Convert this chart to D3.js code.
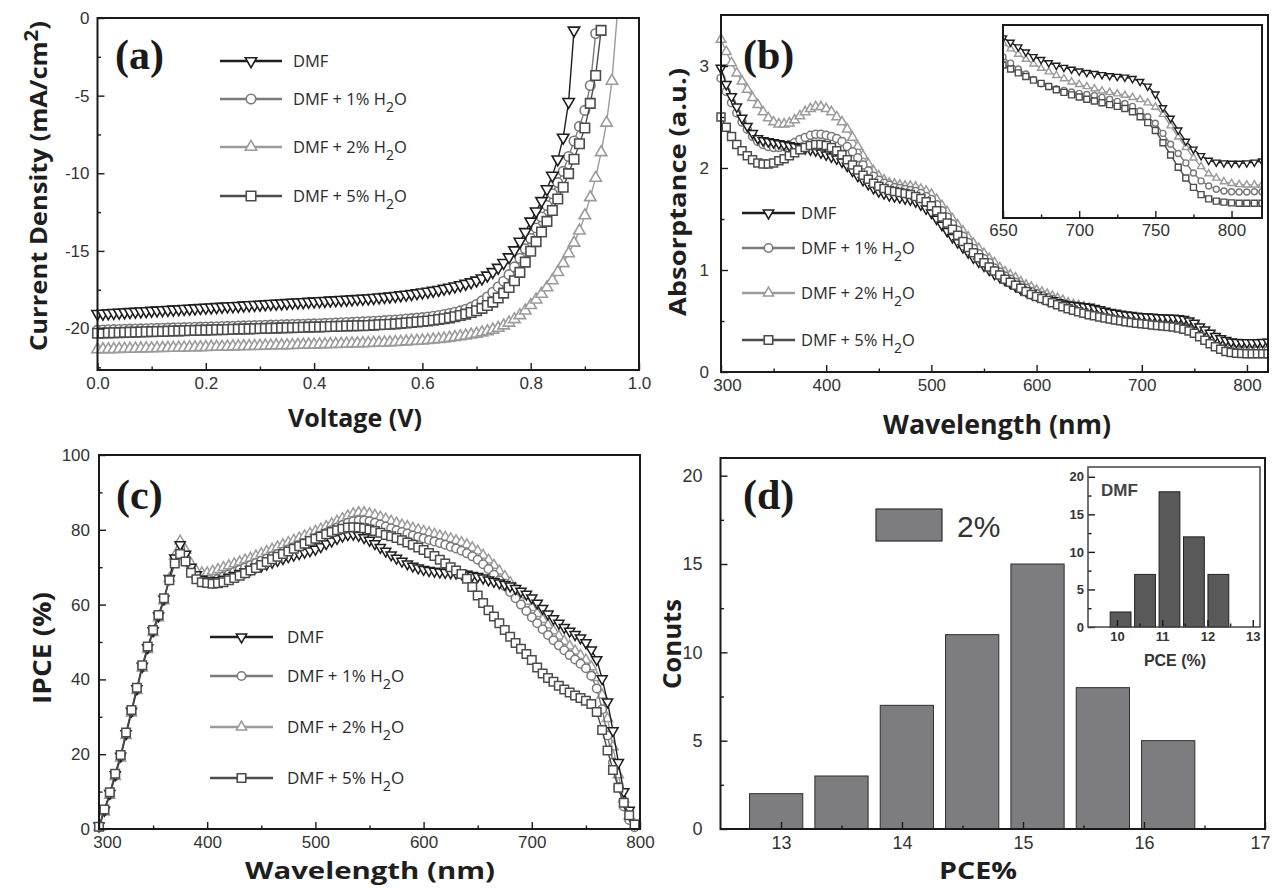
<!DOCTYPE html>
<html>
<head>
<meta charset="utf-8">
<script src="https://cdnjs.cloudflare.com/ajax/libs/d3/7.8.5/d3.min.js"></script>
<style>
  body { margin: 0; background: #fff; }
  svg text { font-family: "Liberation Sans", Arial, sans-serif; }
  .title { font-family: "Open Sans", sans-serif; font-weight: 700; fill: #1e1e1e; }
  .leg { font-family: "Open Sans", sans-serif; fill: #2a2a2a; }
  .tag { font-family: "Liberation Serif", "Times New Roman", serif; font-weight: 700; fill: #1a1a1a; }
</style>
</head>
<body>
<svg id="fig" width="1274" height="889"></svg>
<script>
//Series shared by panels (a), (b) and (c)
var legendLabels = ["DMF", "DMF + 1% H2O", "DMF + 2% H2O", "DMF + 5% H2O"];
var seriesColors = ["#1e1e1e", "#7a7a7a", "#9b9b9b", "#4c4c4c"];
var seriesSymbols = ["down", "circle", "up", "square"];

//(a) J-V curves, voltage from 0 V in steps of 0.01 V
var jvStart = 0, jvStep = 0.01;
var jvDMF = [-19.05,-19.03,-19.01,-18.99,-18.97,-18.95,-18.93,-18.91,-18.89,-18.87,
  -18.85,-18.83,-18.81,-18.79,-18.77,-18.75,-18.73,-18.71,-18.69,-18.67,
  -18.65,-18.63,-18.61,-18.59,-18.57,-18.55,-18.53,-18.51,-18.49,-18.47,
  -18.45,-18.43,-18.41,-18.39,-18.37,-18.35,-18.33,-18.31,-18.29,-18.27,
  -18.25,-18.23,-18.21,-18.19,-18.17,-18.15,-18.13,-18.11,-18.09,-18.07,
  -18.05,-18.02,-17.99,-17.96,-17.93,-17.89,-17.85,-17.81,-17.77,-17.72,
  -17.67,-17.62,-17.56,-17.50,-17.43,-17.36,-17.28,-17.20,-17.11,-17.01,
  -16.90,-16.76,-16.58,-16.35,-16.08,-15.77,-15.40,-14.95,-14.40,-13.78,
  -13.10,-12.45,-11.78,-11.02,-10.15,-9.10,-7.70,-5.40,-0.80];
var jvW1 = [-20.10,-20.09,-20.08,-20.07,-20.06,-20.05,-20.04,-20.03,-20.02,-20.01,
  -20.00,-19.99,-19.98,-19.97,-19.96,-19.95,-19.94,-19.93,-19.92,-19.91,
  -19.90,-19.89,-19.88,-19.87,-19.86,-19.85,-19.84,-19.83,-19.82,-19.81,
  -19.80,-19.79,-19.78,-19.77,-19.76,-19.75,-19.74,-19.73,-19.72,-19.71,
  -19.70,-19.69,-19.67,-19.66,-19.64,-19.63,-19.61,-19.60,-19.58,-19.57,
  -19.55,-19.53,-19.51,-19.49,-19.47,-19.45,-19.42,-19.39,-19.36,-19.33,
  -19.30,-19.26,-19.21,-19.16,-19.10,-19.03,-18.95,-18.86,-18.76,-18.62,
  -18.45,-18.22,-17.97,-17.66,-17.32,-16.95,-16.53,-16.03,-15.47,-14.86,
  -14.20,-13.52,-12.82,-12.08,-11.32,-10.60,-9.88,-8.92,-7.92,-6.98,
  -5.95,-4.35,-1.00];
var jvW2 = [-21.35,-21.34,-21.34,-21.33,-21.32,-21.31,-21.31,-21.30,-21.29,-21.28,
  -21.28,-21.27,-21.26,-21.25,-21.25,-21.24,-21.23,-21.22,-21.22,-21.21,
  -21.20,-21.19,-21.18,-21.18,-21.17,-21.16,-21.15,-21.14,-21.14,-21.13,
  -21.12,-21.11,-21.10,-21.09,-21.09,-21.08,-21.07,-21.06,-21.05,-21.04,
  -21.04,-21.03,-21.02,-21.01,-21.00,-20.99,-20.98,-20.97,-20.96,-20.95,
  -20.94,-20.93,-20.92,-20.91,-20.89,-20.88,-20.86,-20.84,-20.82,-20.80,
  -20.78,-20.75,-20.72,-20.69,-20.65,-20.61,-20.56,-20.51,-20.46,-20.40,
  -20.34,-20.26,-20.18,-20.08,-19.96,-19.81,-19.63,-19.41,-19.15,-18.85,
  -18.50,-18.14,-17.77,-17.35,-16.90,-16.37,-15.80,-15.16,-14.48,-13.70,
  -12.72,-11.55,-10.30,-8.65,-6.75,-4.05,0.30];
var jvW5 = [-20.30,-20.29,-20.28,-20.27,-20.26,-20.25,-20.24,-20.23,-20.22,-20.21,
  -20.20,-20.19,-20.18,-20.17,-20.16,-20.15,-20.14,-20.13,-20.12,-20.11,
  -20.10,-20.09,-20.08,-20.07,-20.06,-20.05,-20.04,-20.03,-20.02,-20.01,
  -20.00,-19.99,-19.98,-19.97,-19.96,-19.95,-19.94,-19.93,-19.92,-19.91,
  -19.90,-19.89,-19.88,-19.87,-19.86,-19.85,-19.84,-19.83,-19.82,-19.81,
  -19.80,-19.78,-19.76,-19.74,-19.72,-19.70,-19.67,-19.64,-19.61,-19.58,
  -19.55,-19.51,-19.47,-19.42,-19.37,-19.31,-19.24,-19.16,-19.07,-18.97,
  -18.85,-18.70,-18.52,-18.30,-18.03,-17.72,-17.36,-16.92,-16.38,-15.72,
  -15.02,-14.40,-13.78,-13.10,-12.40,-11.66,-10.90,-10.02,-9.10,-8.10,
  -7.08,-5.50,-3.70,-0.80];

//(b) absorptance, 300 to 820 nm every 5 nm
var absStart = 300, absStep = 5;
var absDMF = [2.98,2.82,2.70,2.60,2.49,2.41,2.34,2.29,2.27,2.26,
  2.25,2.24,2.23,2.22,2.21,2.20,2.19,2.18,2.17,2.15,
  2.13,2.11,2.09,2.06,2.02,1.97,1.92,1.88,1.84,1.80,
  1.77,1.75,1.73,1.72,1.71,1.70,1.69,1.67,1.64,1.60,
  1.56,1.50,1.44,1.38,1.32,1.27,1.22,1.17,1.12,1.08,
  1.04,1.00,0.96,0.93,0.90,0.87,0.84,0.81,0.79,0.77,
  0.75,0.73,0.71,0.70,0.68,0.67,0.66,0.655,0.65,0.643,
  0.637,0.625,0.612,0.598,0.585,0.577,0.568,0.561,0.555,0.550,
  0.545,0.541,0.538,0.535,0.532,0.530,0.528,0.524,0.516,0.503,
  0.481,0.443,0.414,0.381,0.350,0.328,0.310,0.297,0.292,0.290,
  0.289,0.289,0.290,0.292,0.295];
var absW1 = [2.88,2.75,2.64,2.54,2.45,2.38,2.31,2.26,2.23,2.21,
  2.20,2.20,2.21,2.23,2.25,2.28,2.30,2.32,2.33,2.33,
  2.32,2.31,2.29,2.26,2.21,2.16,2.10,2.03,1.97,1.92,
  1.88,1.85,1.83,1.81,1.80,1.79,1.78,1.77,1.75,1.72,
  1.69,1.64,1.58,1.52,1.45,1.39,1.33,1.27,1.21,1.16,
  1.11,1.07,1.02,0.98,0.94,0.91,0.88,0.85,0.82,0.79,
  0.77,0.75,0.73,0.71,0.69,0.67,0.65,0.63,0.613,0.598,
  0.584,0.567,0.551,0.537,0.522,0.510,0.502,0.496,0.491,0.487,
  0.483,0.480,0.477,0.472,0.467,0.461,0.455,0.447,0.434,0.418,
  0.400,0.372,0.342,0.316,0.290,0.262,0.240,0.226,0.217,0.212,
  0.210,0.209,0.209,0.210,0.210];
var absW2 = [3.26,3.14,3.03,2.93,2.85,2.77,2.69,2.62,2.55,2.49,
  2.45,2.43,2.43,2.44,2.47,2.51,2.55,2.58,2.60,2.60,
  2.58,2.55,2.50,2.45,2.38,2.30,2.21,2.12,2.04,1.97,
  1.92,1.88,1.85,1.84,1.83,1.82,1.82,1.81,1.79,1.77,
  1.74,1.69,1.63,1.57,1.50,1.44,1.38,1.32,1.26,1.21,
  1.16,1.11,1.07,1.02,0.98,0.95,0.92,0.88,0.85,0.83,
  0.80,0.78,0.76,0.74,0.72,0.70,0.675,0.66,0.648,0.636,
  0.623,0.607,0.592,0.578,0.565,0.553,0.543,0.533,0.524,0.515,
  0.508,0.502,0.496,0.490,0.486,0.482,0.478,0.472,0.466,0.457,
  0.445,0.425,0.393,0.362,0.333,0.304,0.280,0.260,0.248,0.238,
  0.233,0.230,0.229,0.229,0.229];
var absW5 = [2.50,2.40,2.31,2.23,2.17,2.12,2.08,2.05,2.04,2.04,
  2.05,2.07,2.09,2.12,2.15,2.18,2.20,2.22,2.23,2.23,
  2.22,2.20,2.17,2.13,2.08,2.03,1.98,1.93,1.89,1.85,
  1.82,1.80,1.78,1.77,1.76,1.75,1.74,1.72,1.70,1.67,
  1.63,1.58,1.52,1.46,1.40,1.34,1.28,1.22,1.17,1.12,
  1.07,1.03,0.99,0.95,0.91,0.88,0.85,0.82,0.79,0.76,
  0.74,0.72,0.70,0.68,0.66,0.64,0.62,0.605,0.59,0.576,
  0.562,0.551,0.540,0.530,0.520,0.511,0.502,0.493,0.486,0.479,
  0.473,0.467,0.462,0.457,0.452,0.447,0.441,0.432,0.418,0.402,
  0.380,0.346,0.312,0.278,0.248,0.222,0.202,0.190,0.184,0.181,
  0.179,0.178,0.178,0.178,0.178];

//(c) IPCE, 300 to 795 nm every 5 nm
var ipceStart = 300, ipceStep = 5;
var ipceDMF = [0.8,5.0,9.5,14.5,19.5,25.5,31.5,37.5,43.5,48.5,
  53.0,57.0,61.5,67.0,72.5,76.0,73.5,70.0,68.0,66.8,
  66.3,66.2,66.4,66.8,67.3,67.8,68.3,68.8,69.4,70.0,
  70.3,70.8,71.3,71.8,72.3,72.8,73.2,73.6,74.0,74.4,
  74.8,75.5,76.3,77.0,77.7,78.3,78.7,78.8,78.5,77.9,
  77.2,76.3,75.3,74.3,73.3,72.4,71.6,70.9,70.3,69.8,
  69.4,69.1,68.9,68.7,68.6,68.5,68.4,68.3,68.1,67.8,
  67.5,67.1,66.6,66.2,65.8,65.4,65.0,64.3,63.6,62.8,
  61.8,60.4,59.0,57.5,56.2,55.0,53.9,52.9,52.0,51.1,
  49.8,47.9,45.3,40.2,34.0,26.3,17.8,10.0,5.0,1.5];
var ipceW1 = [0.5,4.8,9.2,14.2,19.2,25.2,31.2,37.2,43.2,48.2,
  52.7,56.7,61.2,66.5,71.5,74.8,72.5,69.0,67.2,66.4,
  66.2,66.4,66.9,67.5,68.1,68.7,69.3,69.9,70.5,71.1,
  71.7,72.3,72.9,73.5,74.1,74.7,75.3,75.9,76.5,77.1,
  77.8,78.5,79.2,79.9,80.6,81.3,81.9,82.3,82.5,82.5,
  82.3,81.9,81.4,80.9,80.4,79.9,79.4,79.0,78.5,78.1,
  77.7,77.3,76.9,76.5,76.0,75.5,75.0,74.4,73.7,72.9,
  72.0,70.8,69.5,68.0,66.5,65.0,63.4,61.7,60.0,58.3,
  56.6,55.0,53.4,51.9,50.5,49.1,47.8,46.5,45.3,44.2,
  43.0,41.0,37.6,32.0,25.0,17.8,11.2,6.0,2.4,0.5];
var ipceW2 = [0.5,4.5,9.0,14.0,19.0,25.0,31.0,37.0,43.0,48.0,
  52.5,56.5,61.0,67.0,73.0,77.0,74.5,71.0,69.0,68.5,
  68.5,68.9,69.4,69.9,70.4,70.9,71.4,71.9,72.4,73.0,
  73.6,74.2,74.8,75.4,76.0,76.6,77.2,77.8,78.4,79.0,
  79.6,80.2,80.9,81.6,82.3,83.0,83.7,84.3,84.6,84.6,
  84.3,83.9,83.4,82.9,82.3,81.8,81.3,80.9,80.4,80.0,
  79.6,79.2,78.8,78.4,78.0,77.6,77.1,76.6,76.0,75.2,
  74.3,73.2,71.9,70.5,69.0,67.5,65.9,64.3,62.6,60.9,
  59.2,57.6,56.0,54.5,53.0,51.6,50.2,48.9,47.6,46.4,
  45.2,43.4,40.5,35.8,29.5,22.0,14.5,8.0,3.5,0.8];
var ipceW5 = [0.6,5.2,9.8,14.8,19.8,25.8,31.8,37.8,43.8,48.8,
  53.2,57.2,61.7,66.5,71.0,73.5,71.5,68.5,66.8,66.0,
  65.8,65.6,65.7,66.0,66.5,67.1,67.7,68.4,69.1,69.8,
  70.6,71.4,72.1,72.8,73.5,74.2,74.9,75.6,76.3,77.0,
  77.6,78.2,78.8,79.4,79.9,80.3,80.6,80.7,80.6,80.4,
  80.1,79.7,79.2,78.6,78.3,77.8,77.2,76.6,76.0,75.3,
  74.6,73.8,73.0,72.0,71.0,70.0,69.1,68.2,66.9,64.7,
  62.4,60.4,58.5,56.8,55.0,53.2,51.4,49.7,48.2,46.8,
  45.2,43.2,41.6,40.4,39.4,38.3,37.3,36.5,35.7,35.0,
  34.3,33.4,31.3,26.5,21.0,15.8,11.0,7.0,3.7,1.2];

//(d) PCE histograms
var pceBins = [12.96, 13.5, 14.04, 14.58, 15.12, 15.66, 16.2];
var pceCounts = [2, 3, 7, 11, 15, 8, 5];
var dmfBins = [10.08, 10.62, 11.16, 11.7, 12.24];
var dmfCounts = [2, 7, 18, 12, 7];

var svg = d3.select("#fig");

//Plot boxes in page pixels
var boxA = { x0: 97.5, x1: 639, y0: 18, y1: 370 };
var boxB = { x0: 721, x1: 1268, y0: 15, y1: 372 };
var boxBi = { x0: 1003, x1: 1262, y0: 25, y1: 218 };
var boxC = { x0: 99, x1: 640, y0: 455, y1: 829 };
var boxD = { x0: 720.5, x1: 1265, y0: 458, y1: 829 };
var boxDi = { x0: 1088, x1: 1260, y0: 467, y1: 627 };

function markerPath(sym, s) {
  if (sym == "circle") return d3.symbol(d3.symbolCircle, Math.PI * s * s / 4)();
  if (sym == "square") return d3.symbol(d3.symbolSquare, s * s)();
  return d3.symbol(d3.symbolTriangle, Math.sqrt(3) / 4 * s * s)();
}

function markerSize(sym, s) {
  return (sym == "up" || sym == "down") ? s * 1.2 : s;
}

//Draws one series as a thin line with hollow markers
function drawSeries(g, x, y, start, step, ys, idx, size, sw) {
  var pts = ys.map(function (v, i) { return [start + i * step, v]; });
  var color = seriesColors[idx], sym = seriesSymbols[idx];
  g.append("path")
    .attr("d", d3.line().x(function (d) { return x(d[0]); }).y(function (d) { return y(d[1]); })(pts))
    .attr("fill", "none")
    .attr("stroke", color)
    .attr("stroke-width", 1.4);
  g.selectAll(null)
    .data(pts)
    .enter().append("path")
      .attr("d", markerPath(sym, markerSize(sym, size)))
      .attr("transform", function (d) {
        return "translate(" + x(d[0]) + "," + y(d[1]) + ")" + (sym == "down" ? " rotate(180)" : "");
      })
      .attr("fill", "#fff")
      .attr("stroke", color)
      .attr("stroke-width", sw || 1.3);
}

//Axes with inward ticks and a closed frame
function drawFrame(b, x, y, o) {
  var g = svg.append("g").attr("color", "#1a1a1a");
  g.append("g").attr("transform", "translate(0," + b.y1 + ")")
    .call(d3.axisBottom(x).tickValues(o.xMinor).tickSize(-3.5).tickSizeOuter(0).tickFormat(""));
  var xg = g.append("g").attr("transform", "translate(0," + b.y1 + ")")
    .call(d3.axisBottom(x).tickValues(o.xMajor).tickSize(-7).tickSizeOuter(0)
      .tickPadding(o.xPad).tickFormat(o.xFmt));
  if (o.yMajor) {
    g.append("g").attr("transform", "translate(" + b.x0 + ",0)")
      .call(d3.axisLeft(y).tickValues(o.yMinor).tickSize(-3.5).tickSizeOuter(0).tickFormat(""));
    g.append("g").attr("transform", "translate(" + b.x0 + ",0)")
      .call(d3.axisLeft(y).tickValues(o.yMajor).tickSize(-7).tickSizeOuter(0)
        .tickPadding(o.yPad).tickFormat(o.yFmt));
  }
  g.selectAll(".domain").remove();
  g.selectAll(".tick line").attr("stroke-width", 1.4);
  g.selectAll(".tick text")
    .attr("font-size", o.fs || 17)
    .attr("font-weight", o.bold ? 700 : 400)
    .attr("font-family", "'Liberation Sans', Arial, sans-serif")
    .attr("fill", "#333");
  //nudge the first and last x labels where they sit at a corner or the page edge
  var labels = xg.selectAll(".tick text");
  if (o.firstDx) labels.filter(function (d, i) { return i == 0; }).attr("dx", o.firstDx);
  if (o.lastDx) labels.filter(function (d, i, n) { return i == n.length - 1; }).attr("dx", o.lastDx);
  g.append("rect")
    .attr("x", b.x0).attr("y", b.y0)
    .attr("width", b.x1 - b.x0).attr("height", b.y1 - b.y0)
    .attr("fill", "none").attr("stroke", "#1a1a1a").attr("stroke-width", 2);
  return g;
}

function withSub(sel, label) {
  var k = label.indexOf("H2O");
  if (k < 0) { sel.text(label); return; }
  sel.append("tspan").text(label.slice(0, k + 1));
  sel.append("tspan").attr("dy", 7).attr("font-size", "0.85em").text("2");
  sel.append("tspan").attr("dy", -7).text("O");
}

function drawLegend(lx0, lx1, tx, rows, size, fs) {
  var g = svg.append("g");
  legendLabels.forEach(function (lab, i) {
    var cy = rows[i];
    g.append("line").attr("x1", lx0).attr("x2", lx1).attr("y1", cy).attr("y2", cy)
      .attr("stroke", seriesColors[i]).attr("stroke-width", 2.4);
    g.append("path")
      .attr("d", markerPath(seriesSymbols[i], markerSize(seriesSymbols[i], size)))
      .attr("transform", "translate(" + (lx0 + lx1) / 2 + "," + cy + ")" + (seriesSymbols[i] == "down" ? " rotate(180)" : ""))
      .attr("fill", "#fff").attr("stroke", seriesColors[i]).attr("stroke-width", 1.6);
    var t = g.append("text").attr("class", "leg").attr("x", tx).attr("y", cy).attr("dy", "0.35em")
      .attr("font-size", fs);
    withSub(t, lab);
  });
}

function axisTitle(txt, cx, cy, vertical, size, len) {
  var t = svg.append("text").attr("class", "title")
    .attr("transform", "translate(" + cx + "," + cy + ")" + (vertical ? " rotate(-90)" : ""))
    .attr("text-anchor", "middle").attr("dy", "0.35em")
    .attr("font-size", size)
    .attr("textLength", len).attr("lengthAdjust", "spacingAndGlyphs");
  if (txt.indexOf("cm2") >= 0) {
    t.append("tspan").text("Current Density (mA/cm");
    t.append("tspan").attr("dy", -9).attr("font-size", "0.8em").text("2");
    t.append("tspan").attr("dy", 9).text(")");
  } else {
    t.text(txt);
  }
}

function panelTag(txt, x, y) {
  svg.append("text").attr("class", "tag").attr("x", x).attr("y", y).attr("font-size", 42).text(txt);
}

function clipFor(id, b, padL, padB) {
  svg.append("clipPath").attr("id", id).append("rect")
    .attr("x", b.x0 - padL).attr("y", b.y0)
    .attr("width", b.x1 - b.x0 + padL).attr("height", b.y1 - b.y0 + padB);
  return "url(#" + id + ")";
}

var drawOrder = [2, 1, 0, 3];

//---------------- (a) J-V ----------------
var xA = d3.scaleLinear().domain([0, 1]).range([boxA.x0, boxA.x1]);
var yA = d3.scaleLinear().domain([-22.67, 0]).range([boxA.y1, boxA.y0]);
var gA = svg.append("g").attr("clip-path", clipFor("clipA", boxA, 8, 8));
var jvSets = [jvDMF, jvW1, jvW2, jvW5];
drawOrder.forEach(function (i) { drawSeries(gA, xA, yA, jvStart, jvStep, jvSets[i], i, 9.5, 1.6); });
drawFrame(boxA, xA, yA, {
  xMajor: [0, 0.2, 0.4, 0.6, 0.8, 1.0], xMinor: [0.1, 0.3, 0.5, 0.7, 0.9],
  yMajor: [0, -5, -10, -15, -20], yMinor: [-2.5, -7.5, -12.5, -17.5, -22.5],
  xFmt: d3.format(".1f"), yFmt: function (d) { return String(d); }, xPad: 7, yPad: 8
});
drawLegend(220, 282, 293, [61, 99, 147, 196], 9.5, 16.5);
panelTag("(a)", 115, 69);
axisTitle("Current Density (mA/cm2)", 39, 186, true, 24, 330);
axisTitle("Voltage (V)", 355, 418, false, 25, 134);

//---------------- (b) absorptance ----------------
var xB = d3.scaleLinear().domain([300, 820]).range([boxB.x0, boxB.x1]);
var yB = d3.scaleLinear().domain([0, 3.5]).range([boxB.y1, boxB.y0]);
var gB = svg.append("g").attr("clip-path", clipFor("clipB", boxB, 8, 8));
var absSets = [absDMF, absW1, absW2, absW5];
drawOrder.forEach(function (i) { drawSeries(gB, xB, yB, absStart, absStep, absSets[i], i, 8, 1.5); });
drawFrame(boxB, xB, yB, {
  xMajor: [300, 400, 500, 600, 700, 800], xMinor: [350, 450, 550, 650, 750],
  yMajor: [0, 1, 2, 3], yMinor: [0.5, 1.5, 2.5],
  xFmt: d3.format("d"), yFmt: d3.format("d"), xPad: 7, yPad: 12, firstDx: 6
});
drawLegend(742, 795, 801, [213, 248, 293, 340], 8.5, 16.5);
panelTag("(b)", 743, 69);
axisTitle("Absorptance (a.u.)", 678, 192, true, 24, 248);
axisTitle("Wavelength (nm)", 997, 425, false, 27, 228);

//inset of (b): band edge region
svg.append("rect").attr("x", boxBi.x0).attr("y", boxBi.y0)
  .attr("width", boxBi.x1 - boxBi.x0).attr("height", boxBi.y1 - boxBi.y0).attr("fill", "#fff");
var xBi = d3.scaleLinear().domain([650, 820]).range([boxBi.x0, boxBi.x1]);
var yBi = d3.scaleLinear().domain([0.137, 0.673]).range([boxBi.y1, boxBi.y0]);
var gBi = svg.append("g").attr("clip-path", clipFor("clipBi", boxBi, 0, 0));
drawOrder.forEach(function (i) {
  var vals = absSets[i].slice(70);   // 650 nm onwards
  drawSeries(gBi, xBi, yBi, 650, absStep, vals, i, 6, 1.4);
});
drawFrame(boxBi, xBi, yBi, {
  xMajor: [650, 700, 750, 800], xMinor: [675, 725, 775],
  xFmt: d3.format("d"), xPad: 6
});

//---------------- (c) IPCE ----------------
var xC = d3.scaleLinear().domain([300, 800]).range([boxC.x0, boxC.x1]);
var yC = d3.scaleLinear().domain([0, 100]).range([boxC.y1, boxC.y0]);
var gC = svg.append("g");
var ipceSets = [ipceDMF, ipceW1, ipceW2, ipceW5];
drawOrder.forEach(function (i) { drawSeries(gC, xC, yC, ipceStart, ipceStep, ipceSets[i], i, 8.5, 1.5); });
drawFrame(boxC, xC, yC, {
  xMajor: [300, 400, 500, 600, 700, 800], xMinor: [350, 450, 550, 650, 750],
  yMajor: [0, 20, 40, 60, 80, 100], yMinor: [10, 30, 50, 70, 90],
  xFmt: d3.format("d"), yFmt: d3.format("d"), xPad: 7, yPad: 9, firstDx: 8
});
drawLegend(210, 273, 287, [637, 676, 727, 778], 8.5, 17);
panelTag("(c)", 116, 509);
axisTitle("IPCE (%)", 42, 648, true, 25, 112);
axisTitle("Wavelength (nm)", 370, 871, false, 24, 250);

//---------------- (d) PCE histogram ----------------
var xD = d3.scaleLinear().domain([12.5, 17]).range([boxD.x0, boxD.x1]);
var yD = d3.scaleLinear().domain([0, 21]).range([boxD.y1, boxD.y0]);
var barW = 0.44;
svg.append("g").selectAll("rect")
  .data(pceBins)
  .enter().append("rect")
    .attr("x", function (d) { return xD(d - barW / 2); })
    .attr("y", function (d, i) { return yD(pceCounts[i]); })
    .attr("width", xD(12.5 + barW) - xD(12.5))
    .attr("height", function (d, i) { return yD(0) - yD(pceCounts[i]); })
    .attr("fill", "#7d7d80")
    .attr("stroke", "#2e2e2e")
    .attr("stroke-width", 1);
drawFrame(boxD, xD, yD, {
  xMajor: [13, 14, 15, 16, 17], xMinor: [13.5, 14.5, 15.5, 16.5],
  yMajor: [0, 5, 10, 15, 20], yMinor: [2.5, 7.5, 12.5, 17.5],
  xFmt: d3.format("d"), yFmt: d3.format("d"), xPad: 7, yPad: 18, fs: 18, lastDx: -5
});
panelTag("(d)", 743, 509);
axisTitle("Conuts", 672, 644, true, 25, 90);
axisTitle("PCE%", 978, 871, false, 24, 78);

//legend of (d)
svg.append("rect").attr("x", 876).attr("y", 509).attr("width", 66).attr("height", 32)
  .attr("fill", "#7d7d80").attr("stroke", "#2e2e2e").attr("stroke-width", 1.2);
svg.append("text").attr("x", 957).attr("y", 537).attr("font-size", 30).attr("fill", "#333").text("2%");

//inset of (d): DMF histogram
svg.append("rect").attr("x", boxDi.x0).attr("y", boxDi.y0)
  .attr("width", boxDi.x1 - boxDi.x0).attr("height", boxDi.y1 - boxDi.y0).attr("fill", "#fff");
var xDi = d3.scaleLinear().domain([9.36, 13.16]).range([boxDi.x0, boxDi.x1]);
var yDi = d3.scaleLinear().domain([0, 21.3]).range([boxDi.y1, boxDi.y0]);
var barWi = 0.46;
svg.append("g").selectAll("rect")
  .data(dmfBins)
  .enter().append("rect")
    .attr("x", function (d) { return xDi(d - barWi / 2); })
    .attr("y", function (d, i) { return yDi(dmfCounts[i]); })
    .attr("width", xDi(10 + barWi) - xDi(10))
    .attr("height", function (d, i) { return yDi(0) - yDi(dmfCounts[i]); })
    .attr("fill", "#595959")
    .attr("stroke", "#222")
    .attr("stroke-width", 1);
var gDi = drawFrame(boxDi, xDi, yDi, {
  xMajor: [10, 11, 12, 13], xMinor: [10.5, 11.5, 12.5],
  yMajor: [0, 5, 10, 15, 20], yMinor: [2.5, 7.5, 12.5, 17.5],
  xFmt: d3.format("d"), yFmt: d3.format("d"), xPad: 5, yPad: 4, fs: 13, bold: true
});
gDi.select("rect").attr("stroke-width", 1.5).attr("stroke", "#444");
svg.append("text").attr("x", 1101).attr("y", 496).attr("font-size", 17).attr("font-weight", 700)
  .attr("fill", "#444").text("DMF");
svg.append("text").attr("x", 1175).attr("y", 666).attr("text-anchor", "middle")
  .attr("font-size", 16).attr("font-weight", 700).attr("fill", "#333").text("PCE (%)");
</script>
</body>
</html>
